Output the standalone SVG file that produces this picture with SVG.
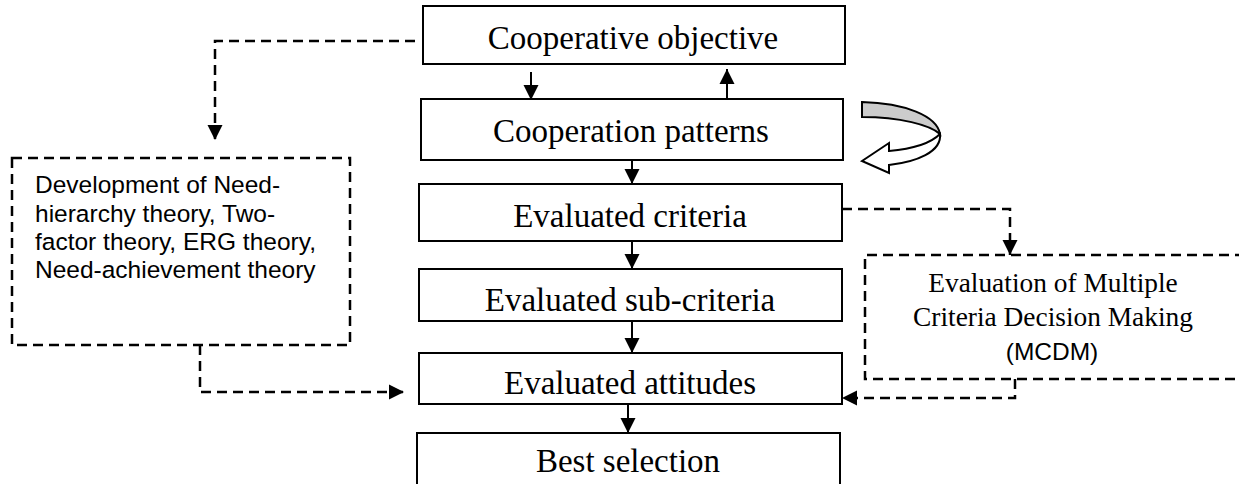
<svg xmlns="http://www.w3.org/2000/svg" width="1239" height="484" viewBox="0 0 1239 484">
<defs>
<style>
.box{fill:#fff;stroke:#000;stroke-width:2}
.dbox{fill:none;stroke:#000;stroke-width:2.5;stroke-dasharray:10 6}
.t{font-family:"Liberation Serif","Times New Roman",serif;font-size:33px;fill:#000;text-anchor:middle}
.ts{font-family:"Liberation Serif","Times New Roman",serif;font-size:27.4px;fill:#000;text-anchor:middle}
.s{font-family:"Liberation Sans",Arial,sans-serif;font-size:24.5px;fill:#000}
.ln{fill:none;stroke:#000;stroke-width:2}
.dl{fill:none;stroke:#000;stroke-width:2.5;stroke-dasharray:10 6}
</style>
<marker id="ah" markerUnits="userSpaceOnUse" markerWidth="16" markerHeight="16" refX="15" refY="8" orient="auto">
<path d="M0,0.5 L15,8 L0,15.5 Z" fill="#000"/>
</marker>
</defs>
<rect width="1239" height="484" fill="#fff"/>
<g id="connectors">
<line class="ln" x1="531" y1="72" x2="531" y2="100" marker-end="url(#ah)"/>
<line class="ln" x1="727" y1="99" x2="727" y2="69" marker-end="url(#ah)"/>
<line class="ln" x1="632" y1="160" x2="632" y2="184" marker-end="url(#ah)"/>
<line class="ln" x1="632" y1="241" x2="632" y2="269" marker-end="url(#ah)"/>
<line class="ln" x1="632" y1="321" x2="632" y2="353" marker-end="url(#ah)"/>
<line class="ln" x1="628" y1="404" x2="628" y2="433" marker-end="url(#ah)"/>
<path class="dl" d="M415,41 H215 V140" marker-end="url(#ah)"/>
<path class="dl" d="M200,345 V392 H404" marker-end="url(#ah)"/>
<path class="dl" d="M842,209 H1010 V255" marker-end="url(#ah)"/>
<path class="dl" d="M1015,379 V398 H842" marker-end="url(#ah)"/>
<g id="loop">
<path d="M862,102 C905,103 937,116 940,134 C930,125 900,117 862,117 Z" fill="#cccccc" stroke="#000" stroke-width="2"/>
<path d="M940,134 C942,152 916,162 889,165 L889,173 L862,161 L889,143 L889,151 C912,149 931,143 940,134 Z" fill="#fff" stroke="#000" stroke-width="2"/>
</g>
</g>
<g id="cooperative-objective">
<rect class="box" x="423" y="6" width="422" height="58"/>
<text class="t" x="633" y="49">Cooperative objective</text>
</g>
<g id="cooperation-patterns">
<rect class="box" x="421" y="99" width="422" height="61"/>
<text class="t" x="631" y="142">Cooperation patterns</text>
</g>
<g id="evaluated-criteria">
<rect class="box" x="419" y="184" width="423" height="57"/>
<text class="t" x="630" y="227">Evaluated criteria</text>
</g>
<g id="evaluated-sub-criteria">
<rect class="box" x="419" y="269" width="423" height="52"/>
<text class="t" x="630" y="311">Evaluated sub-criteria</text>
</g>
<g id="evaluated-attitudes">
<rect class="box" x="419" y="353" width="423" height="51"/>
<text class="t" x="630" y="394">Evaluated attitudes</text>
</g>
<g id="best-selection">
<path class="box" d="M417,490 V433 H840 V490"/>
<text class="t" x="628" y="472">Best selection</text>
</g>
<g id="theories">
<rect class="dbox" x="12" y="158" width="338" height="187"/>
<text class="s" x="35" y="193">Development of Need-</text>
<text class="s" x="35" y="222">hierarchy theory, Two-</text>
<text class="s" x="35" y="250">factor theory, ERG theory,</text>
<text class="s" x="35" y="278">Need-achievement theory</text>
</g>
<g id="mcdm">
<path class="dbox" d="M1245,255 H865 V379 H1245"/>
<text class="ts" x="1053" y="292">Evaluation of Multiple</text>
<text class="ts" x="1053" y="326">Criteria Decision Making</text>
<text class="s" x="1052" y="360" text-anchor="middle">(MCDM)</text>
</g>
</svg>
